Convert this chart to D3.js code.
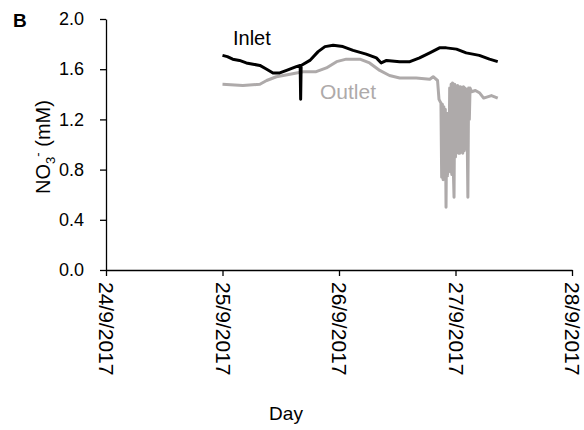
<!DOCTYPE html>
<html>
<head>
<meta charset="utf-8">
<script src="https://cdn.jsdelivr.net/npm/d3@7"></script>
<style>
  body { margin: 0; background: #fff; }
  text { font-family: "Liberation Sans", Arial, sans-serif; }
</style>
</head>
<body>
<svg width="584" height="430"></svg>
<script>
// hours since 25/9/2017 00:00 and nitrate (mM)
var inletHours = [0, 1.0, 2.1, 3.5, 4.9, 6.3, 7.7, 9.1, 10.4, 11.8, 13.2, 15.2, 16.0, 16.1, 16.2, 18.0, 19.7, 21.1, 22.8,
  24.8, 26.9, 29.6, 31.7, 32.7, 33.8, 36.5, 38.6, 40.6, 42.7, 44.7, 46.1, 48.2, 50.2, 52.9, 55.0, 56.7];
var inletValues = [1.71, 1.70, 1.68, 1.67, 1.65, 1.64, 1.63, 1.60, 1.57, 1.57, 1.59, 1.62, 1.63, 1.36, 1.63, 1.67, 1.74, 1.78, 1.79,
  1.78, 1.75, 1.72, 1.69, 1.65, 1.67, 1.66, 1.66, 1.69, 1.73, 1.77, 1.77, 1.76, 1.73, 1.71, 1.68, 1.66];

var outletHours = [0, 4.2, 7.7, 9.1, 11.1, 13.9, 16.6, 19.3, 21.4, 23.5, 25.5, 28.3, 30.3, 32.4, 34.4,
  36.5, 39.9, 42.7, 43.4, 44.3, 44.6,
  45.0, 45.15, 45.3, 45.45, 45.6, 45.75, 45.9, 46.05, 46.2, 46.35, 46.5, 46.65,
  46.8, 46.95, 47.1, 47.25, 47.4, 47.55, 47.7, 47.85, 48.0,
  48.15, 48.3, 48.45, 48.6, 48.75, 48.9, 49.05, 49.2, 49.35, 49.5, 49.65, 49.8, 49.95, 50.1, 50.25,
  50.4, 50.55, 50.7, 50.85, 51.0, 51.3, 52.1, 53.0, 53.8, 54.6, 55.4, 56.7];
var outletValues = [1.48, 1.47, 1.48, 1.51, 1.54, 1.56, 1.58, 1.58, 1.61, 1.66, 1.68, 1.68, 1.65, 1.59, 1.55,
  1.53, 1.53, 1.52, 1.54, 1.51, 1.36,
  1.33, 0.74, 1.32, 0.72, 1.30, 0.73, 1.28, 0.50, 1.25, 0.75, 1.20, 0.80,
  1.45, 0.78, 1.48, 0.76, 1.49, 0.80, 0.58, 1.48, 0.90,
  1.40, 0.95, 1.47, 0.93, 1.46, 0.93, 1.46, 0.94, 1.45, 0.93, 1.46, 0.95, 1.45, 0.97, 1.44,
  1.10, 0.58, 1.45, 1.20, 1.45, 1.42, 1.43, 1.41, 1.37, 1.38, 1.39, 1.37];

var yTicks = [0, 0.4, 0.8, 1.2, 1.6, 2.0];
var xStart = new Date(2017, 8, 24), xEnd = new Date(2017, 8, 28);
var seriesStart = new Date(2017, 8, 25);

var svg = d3.select("svg");
var margin = {top: 19, left: 106, right: 12, bottom: 160};
var width = 584 - margin.left - margin.right,
  height = 430 - margin.top - margin.bottom;

var x = d3.scaleTime().domain([xStart, xEnd]).range([0, width]);
var y = d3.scaleLinear().domain([0, 2]).range([height, 0]);

var g = svg.append("g").attr("transform", "translate(" + margin.left + "," + margin.top + ")");

function toPoints(hours, values) {
  return hours.map(function(h, i) {
    return {date: new Date(seriesStart.getTime() + h * 3600e3), value: values[i]};
  });
}

var line = d3.line()
  .x(function(d) { return x(d.date); })
  .y(function(d) { return y(d.value); });

// axes
var yAxis = g.append("g")
  .call(d3.axisLeft(y).tickValues(yTicks).tickFormat(d3.format(".1f")).tickSize(6).tickSizeOuter(0).tickPadding(16));
yAxis.selectAll("text").style("font-size", "18px").attr("fill", "#000");

var xAxis = g.append("g")
  .attr("transform", "translate(0," + height + ")")
  .call(d3.axisBottom(x).ticks(d3.timeDay.every(1)).tickFormat(d3.timeFormat("%-d/%-m/%Y")).tickSize(6).tickSizeOuter(0));
xAxis.selectAll("text")
  .style("font-size", "21px")
  .attr("fill", "#000")
  .attr("text-anchor", "start")
  .attr("transform", "rotate(90)")
  .attr("x", 12)
  .attr("y", 0)
  .attr("dy", "0.35em");

g.selectAll(".domain, .tick line").attr("stroke", "#000").attr("stroke-width", 1.3);

// series
g.append("path")
  .datum(toPoints(outletHours, outletValues))
  .attr("fill", "none")
  .attr("stroke", "#aeaaaa")
  .attr("stroke-width", 3)
  .attr("stroke-linejoin", "round")
  .attr("d", line);

g.append("path")
  .datum(toPoints(inletHours, inletValues))
  .attr("fill", "none")
  .attr("stroke", "#000")
  .attr("stroke-width", 3)
  .attr("stroke-linejoin", "round")
  .attr("d", line);

// labels
svg.append("text").attr("x", 233).attr("y", 45).style("font-size", "20px").text("Inlet");
svg.append("text").attr("x", 320).attr("y", 99).style("font-size", "21px").attr("fill", "#aeaaaa").text("Outlet");
svg.append("text").attr("x", 13).attr("y", 27).style("font-size", "19px").style("font-weight", "bold").text("B");
svg.append("text").attr("x", 286).attr("y", 420).attr("text-anchor", "middle").style("font-size", "19px").text("Day");

var yl = svg.append("text")
  .attr("transform", "translate(50,147) rotate(-90)")
  .attr("text-anchor", "middle")
  .style("font-size", "20px");
yl.append("tspan").text("NO");
yl.append("tspan").attr("dy", 5).style("font-size", "13px").text("3");
yl.append("tspan").attr("dy", -13).style("font-size", "13px").text("-");
yl.append("tspan").attr("dy", 8).text(" (mM)");
</script>
</body>
</html>
